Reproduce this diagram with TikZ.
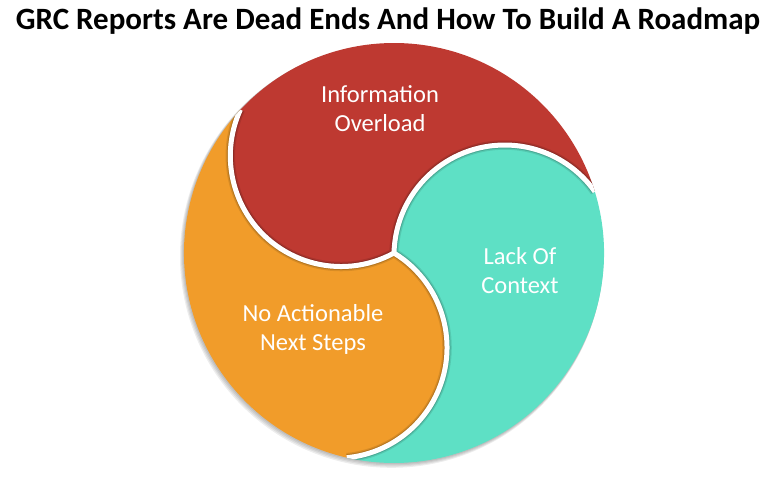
\documentclass[tikz,border=0pt]{standalone}
\usepackage{fontspec}
\setmainfont{Carlito}
\usetikzlibrary{calc}
\definecolor{redc}{HTML}{BE3931}
\definecolor{orangec}{HTML}{F19C2A}
\definecolor{tealc}{HTML}{5EE0C5}
\tikzset{
  lbl/.style={text=white, align=center, font=\fontsize{24.5}{29}\selectfont},
  shadowA/.style={draw=black, line width=9.5pt, opacity=0.10},
  shadowB/.style={draw=black, line width=7pt, opacity=0.16},
  rim/.style={draw=white, line width=5pt},
  outershadow/.style={fill=black, opacity=0.07}
}
\begin{document}
\begin{tikzpicture}[x=1pt,y=1pt,yscale=-1]
\useasboundingbox (0,0) rectangle (780,477);
\coordinate (O) at (394,253);
\def\redpath{($(O)+(-137:210)$) arc[start angle=-137,end angle=-17,radius=210]
  arc[start angle=-35.4,end angle=-178.6,radius=110.7]
  arc[start angle=61.4,end angle=204.6,radius=110.7] -- cycle}
\def\tealpath{($(O)+(-17:210)$) arc[start angle=-17,end angle=103,radius=210]
  arc[start angle=84.6,end angle=-58.6,radius=110.7]
  arc[start angle=181.4,end angle=324.6,radius=110.7] -- cycle}
\def\orangepath{($(O)+(103:210)$) arc[start angle=103,end angle=223,radius=210]
  arc[start angle=204.6,end angle=61.4,radius=110.7]
  arc[start angle=301.4,end angle=444.6,radius=110.7] -- cycle}
\def\seams{(O) arc[start angle=61.4,end angle=204.6,radius=110.7]
  (O) arc[start angle=181.4,end angle=324.6,radius=110.7]
  (O) arc[start angle=301.4,end angle=444.6,radius=110.7]}
% soft outer shadow
\foreach \d in {1,2,3,4} {
  \fill[outershadow] ($(O)+(-0.6*\d,0.8*\d)$) circle[radius=210+0.4*\d];
}
% fills
\fill[redc] \redpath;
\fill[tealc] \tealpath;
\fill[orangec] \orangepath;
% seams between the pieces
\begin{scope}
  \clip (O) circle[radius=210];
  \path[shadowA] \seams;
  \path[shadowB] \seams;
  \path[rim] \seams;
\end{scope}
% labels
\node[font=\bfseries\fontsize{31}{37}\selectfont] (title) at (388,21) {GRC Reports Are Dead Ends And How To Build A Roadmap};
\node[lbl] (info) at (380,109) {Information\\Overload};
\node[lbl] (lack) at (520,271) {Lack Of\\Context};
\node[lbl] (noact) at (313,329) {No Actionable\\Next Steps};
\end{tikzpicture}
\end{document}
